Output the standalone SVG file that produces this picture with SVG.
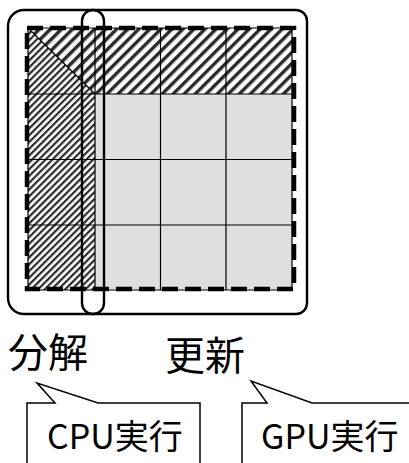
<svg xmlns="http://www.w3.org/2000/svg" width="409" height="463" viewBox="0 0 409 463">
<style>
.grid{stroke:#000;stroke-width:1.2;fill:none}
.outline{stroke:#000;stroke-width:2.4;fill:none}
.dash{stroke:#000;stroke-width:4.5;fill:none;stroke-dasharray:16 7}
.lbl{font-family:"Noto Sans CJK JP","Noto Sans",sans-serif;fill:#000}
.callout{stroke:#000;stroke-width:1.5;fill:#fff}
</style>
<defs>
<pattern id="coarse" patternUnits="userSpaceOnUse" width="7.8" height="7.8" patternTransform="rotate(45)"><rect width="7.8" height="7.8" fill="#fff"/><rect width="3.4" height="7.8" fill="#2a2a2a"/></pattern>
<pattern id="fine" patternUnits="userSpaceOnUse" width="4.8" height="4.8" patternTransform="rotate(45)"><rect width="4.8" height="4.8" fill="#fff"/><rect width="2.2" height="4.8" fill="#2a2a2a"/></pattern>
</defs>
<rect width="409" height="463" fill="#fff"/>
<g id="grid">
<rect x="95" y="28" width="197" height="66" fill="url(#coarse)"/>
<polygon points="28,28 95,28 95,94" fill="url(#coarse)"/>
<polygon points="28,28 28,94 95,94" fill="url(#fine)"/>
<rect x="28" y="94" width="67" height="196" fill="url(#fine)"/>
<rect x="95" y="94" width="197" height="196" fill="#dfdfdf"/>
<path class="grid" d="M28 28V290M95 28V290M160.5 28V290M226 28V290M292 28V290M28 28H292M28 94H292M28 159.5H292M28 225H292M28 290H292M28 28L95 94"/>
<rect class="dash" x="27" y="28" width="267" height="261"/>
</g>
<g id="decompose-group">
<path class="outline" d="M24 10H93A11 11 0 0 1 104 21V303A11 11 0 0 1 93 314H24A16 16 0 0 1 8 298V26A16 16 0 0 1 24 10Z"/>
</g>
<g id="update-group">
<rect class="outline" x="82" y="10" width="225" height="304" rx="11" ry="11"/>
</g>
<g id="label-decompose"><text class="lbl" x="8" y="367" font-size="40">分解</text></g>
<g id="label-update"><text class="lbl" x="165" y="370" font-size="40">更新</text></g>
<g id="callout-cpu">
<path class="callout" d="M27 470V403H55L37 383L98 403H200V470"/>
<text class="lbl" x="47" y="449" font-size="34">CPU実行</text>
</g>
<g id="callout-gpu">
<path class="callout" d="M242 470V403H267L251 381L312 403H420"/>
<text class="lbl" x="261" y="449" font-size="34">GPU実行</text>
</g>
</svg>
